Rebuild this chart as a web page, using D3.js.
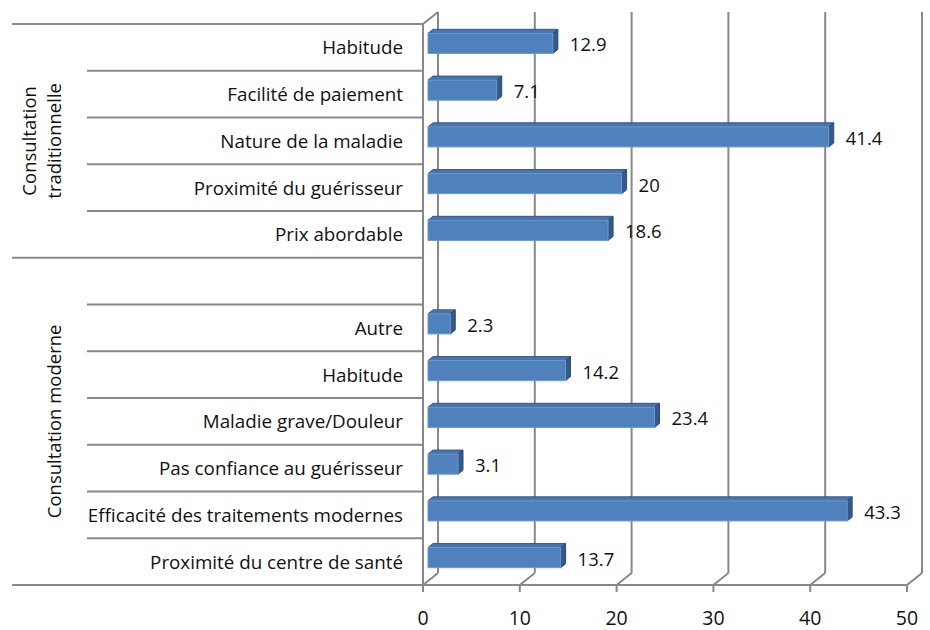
<!DOCTYPE html>
<html>
<head>
<meta charset="utf-8">
<script src="https://cdn.jsdelivr.net/npm/d3@7"></script>
<style>
  body { margin: 0; background: #fff; }
  svg text { font-family: "Open Sans", sans-serif; fill: #111; }
</style>
</head>
<body>
<svg id="chart" width="930" height="630"></svg>
<script>
// categories top to bottom, "" is the empty slot between the two groups
const categories = [
    "Habitude", "Facilité de paiement", "Nature de la maladie",
    "Proximité du guérisseur", "Prix abordable",
    "", "Autre", "Habitude", "Maladie grave/Douleur",
    "Pas confiance au guérisseur", "Efficacité des traitements modernes",
    "Proximité du centre de santé"
];
const values = [12.9, 7.1, 41.4, 20, 18.6, null, 2.3, 14.2, 23.4, 3.1, 43.3, 13.7];
const groupNames = [["Consultation", "traditionnelle"], ["Consultation moderne"]];
const groupSizes = [5, 7];
const xTicks = [0, 10, 20, 30, 40, 50];

const svg = d3.select("#chart");

const plotLeft = 423, plotRight = 907, plotTop = 24, plotBottom = 585;
const DX = 15, DY = -12;   // depth of the 3D box
const gridColor = "#888888";

const slots = categories.map((c, i) => i);

const x = d3.scaleLinear().domain([0, 50]).range([plotLeft, plotRight]);
const y = d3.scaleBand().domain(slots).range([plotTop, plotBottom]);
const yBar = d3.scaleBand().domain(slots).range([plotTop, plotBottom])
    .paddingInner(0.57).paddingOuter(0.285);

// back wall gridlines + floor diagonals
const grid = svg.append("g").attr("stroke", gridColor).attr("stroke-width", 2).attr("fill", "none");
xTicks.forEach(t => {
    grid.append("line")
        .attr("x1", x(t) + DX).attr("x2", x(t) + DX)
        .attr("y1", plotTop + DY).attr("y2", plotBottom + DY);
    grid.append("line")
        .attr("x1", x(t)).attr("x2", x(t) + DX)
        .attr("y1", plotBottom).attr("y2", plotBottom + DY);
    // tick below the axis
    grid.append("line")
        .attr("x1", x(t)).attr("x2", x(t))
        .attr("y1", plotBottom).attr("y2", plotBottom + 7);
});

// left wall front edge and top edge
grid.append("line").attr("x1", plotLeft).attr("x2", plotLeft).attr("y1", plotTop).attr("y2", plotBottom);
grid.append("line").attr("x1", plotLeft).attr("x2", plotLeft + DX).attr("y1", plotTop).attr("y2", plotTop + DY);

// category separators (inner level and group level)
let groupBounds = [0];
groupSizes.reduce((acc, n) => { groupBounds.push(acc + n); return acc + n; }, 0);
d3.range(categories.length + 1).forEach(i => {
    const yy = i < categories.length ? y(i) : plotBottom;
    const isGroup = groupBounds.includes(i);
    grid.append("line")
        .attr("x1", isGroup ? 12 : 87).attr("x2", plotLeft)
        .attr("y1", yy).attr("y2", yy);
});
// front axis line
grid.append("line").attr("x1", plotLeft).attr("x2", plotRight).attr("y1", plotBottom).attr("y2", plotBottom);

// 3D bars
const fx = DX / 3, fy = DY / 3;   // front face offset
const barData = values.map((v, i) => ({ v: v, i: i })).filter(d => d.v !== null);

const bars = svg.append("g").selectAll("g").data(barData).enter().append("g");

// top face
bars.append("path")
    .attr("d", d => {
        const y0 = yBar(d.i) + fy, x0 = x(0) + fx, x1 = x(d.v) + fx;
        return "M" + x0 + "," + y0 + "L" + (x0 + fx) + "," + (y0 + fy) +
            "L" + (x1 + fx) + "," + (y0 + fy) + "L" + x1 + "," + y0 + "Z";
    })
    .attr("fill", "#4775ad").attr("stroke", "#33598a").attr("stroke-width", 1);

// side face
bars.append("path")
    .attr("d", d => {
        const y0 = yBar(d.i) + fy, y1 = y0 + yBar.bandwidth(), x1 = x(d.v) + fx;
        return "M" + x1 + "," + y0 + "L" + (x1 + fx) + "," + (y0 + fy) +
            "L" + (x1 + fx) + "," + (y1 + fy) + "L" + x1 + "," + y1 + "Z";
    })
    .attr("fill", "#34598a").attr("stroke", "#2c4c76").attr("stroke-width", 1);

// front face
bars.append("rect")
    .attr("x", x(0) + fx)
    .attr("y", d => yBar(d.i) + fy)
    .attr("width", d => x(d.v) - x(0))
    .attr("height", yBar.bandwidth())
    .attr("fill", "#4f81bd").attr("stroke", "#6f98cb").attr("stroke-width", 1);

// value labels
svg.append("g").selectAll("text").data(barData).enter().append("text")
    .attr("x", d => x(d.v) + 22)
    .attr("y", d => y(d.i) + y.bandwidth() / 2 + 4)
    .style("font-size", "18.5px")
    .text(d => d.v);

// category labels
svg.append("g").selectAll("text").data(slots).enter().append("text")
    .attr("x", 403)
    .attr("y", i => y(i) + y.bandwidth() / 2 + 7)
    .attr("text-anchor", "end")
    .style("font-size", "18.8px")
    .text(i => categories[i]);

// group labels, rotated
groupNames.forEach((lines, g) => {
    const yc = (y(groupBounds[g]) + (groupBounds[g + 1] < categories.length ? y(groupBounds[g + 1]) : plotBottom)) / 2;
    const baseX = [36, 61].slice(2 - lines.length);
    lines.forEach((line, k) => {
        svg.append("text")
            .attr("text-anchor", "middle")
            .attr("transform", "translate(" + baseX[k] + "," + yc + ")rotate(-90)")
            .style("font-size", "18.5px")
            .text(line);
    });
});

// x tick labels
svg.append("g").selectAll("text").data(xTicks).enter().append("text")
    .attr("x", d => x(d))
    .attr("y", 625)
    .attr("text-anchor", "middle")
    .style("font-size", "19.5px")
    .text(d => d);
</script>
</body>
</html>
